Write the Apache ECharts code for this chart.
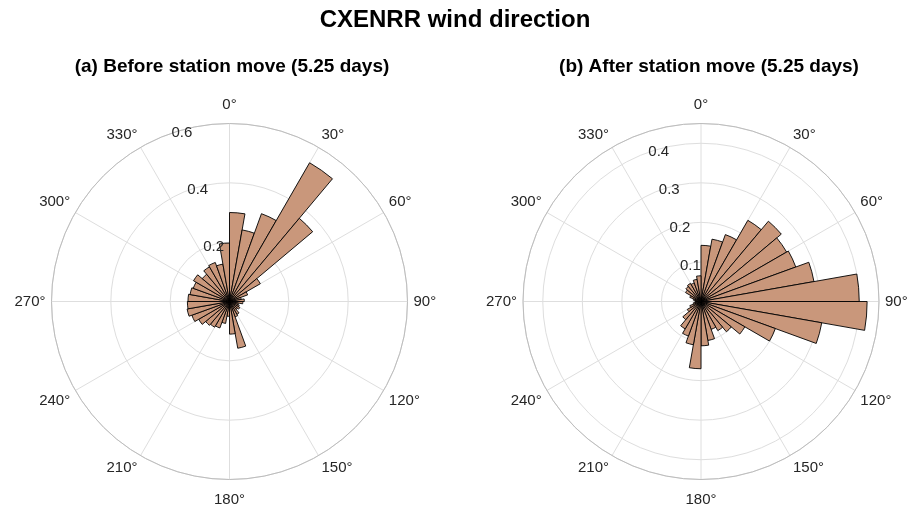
<!DOCTYPE html>
<html>
<head>
<meta charset="utf-8">
<script src="https://cdn.jsdelivr.net/npm/echarts@6/dist/echarts.min.js"></script>
<style>
html,body{margin:0;padding:0;background:#fff;}
#chart{width:910px;height:506px;}
</style>
</head>
<body>
<div id="chart"></div>
<script>
// ---- data ----
const binStart = [0,10,20,30,40,50,60,70,80,90,100,110,120,130,140,150,160,170,
                  180,190,200,210,220,230,240,250,260,270,280,290,300,310,320,330,340,350];
const beforeFreq = [0.300,0.245,0.315,0.540,0.366,0.120,0.065,0.040,0.050,0.045,0.030,0.035,
                    0.040,0.035,0.050,0.055,0.160,0.110,0.050,0.075,0.095,0.100,0.105,0.120,
                    0.135,0.145,0.142,0.140,0.135,0.130,0.140,0.120,0.135,0.140,0.128,0.197];
const afterFreq  = [0.142,0.160,0.180,0.237,0.265,0.250,0.255,0.290,0.400,0.420,0.310,0.200,
                    0.128,0.100,0.085,0.075,0.100,0.112,0.170,0.111,0.093,0.080,0.060,0.040,
                    0.030,0.020,0.015,0.015,0.020,0.030,0.045,0.050,0.053,0.050,0.057,0.065];
const angleTicks = [0,30,60,90,120,150,180,210,240,270,300,330];
const rTicksA = [0.2,0.4,0.6];
const rTicksB = [0.1,0.2,0.3,0.4];
const rMaxA = 0.6, rIntA = 0.2;
const rMaxB = 0.45, rIntB = 0.1;
const mainTitle = 'CXENRR wind direction';
const subTitles = ['(a) Before station move (5.25 days)', '(b) After station move (5.25 days)'];

// ---- style ----
const FONT = 'Liberation Sans, Arial, Helvetica, sans-serif';
const TXT = '#262626';
const GRID = '#dedede';
const OUTER = '#bdbdbd';
const FILL = '#C9977B';
const centers = [[229.5, 301.5], [701, 301.5]];
const R = 178;

const chart = echarts.init(document.getElementById('chart'), null, {renderer: 'canvas'});

const polar = [], angleAxis = [], radiusAxis = [], series = [];
const panels = [
  {data: beforeFreq, max: rMaxA, interval: rIntA, ticks: rTicksA},
  {data: afterFreq,  max: rMaxB, interval: rIntB, ticks: rTicksB}
];

panels.forEach((p, i) => {
  const c = centers[i];
  // grid polar (labels in degrees, circles, spokes)
  const gi = polar.length;
  polar.push({center: c, radius: R});
  angleAxis.push({
    polarIndex: gi, type: 'value', min: 0, max: 360, interval: 30,
    startAngle: 90, clockwise: true, z: 0,
    axisLine: {show: true, lineStyle: {color: OUTER, width: 1}},
    axisTick: {show: false},
    splitLine: {show: true, lineStyle: {color: GRID, width: 1}},
    axisLabel: {
      show: true, margin: 6, color: TXT, fontSize: 15, fontFamily: FONT,
      formatter: v => {
        if (angleTicks.indexOf(v) < 0) return '';
        if (v === 0) return '{t|' + v + '°}';
        if (v === 180) return '{b|' + v + '°}';
        return v + '°';
      },
      rich: {
        t: {padding: [0,0,5,0], fontSize: 15, fontFamily: FONT, color: TXT},
        b: {padding: [7,0,0,0], fontSize: 15, fontFamily: FONT, color: TXT}
      }
    }
  });
  radiusAxis.push({
    polarIndex: gi, type: 'value', min: 0, max: p.max, interval: p.interval, z: 0,
    axisLine: {show: false}, axisTick: {show: false}, axisLabel: {show: false},
    splitLine: {show: true, lineStyle: {color: GRID, width: 1}}
  });

  // bar polar
  const bi = polar.length;
  polar.push({center: c, radius: R});
  angleAxis.push({
    polarIndex: bi, type: 'category', data: binStart.map(String), boundaryGap: true,
    startAngle: 90, clockwise: true,
    axisLine: {show: false}, axisTick: {show: false}, axisLabel: {show: false}, splitLine: {show: false}
  });
  radiusAxis.push({
    polarIndex: bi, type: 'value', min: 0, max: p.max,
    axisLine: {show: false}, axisTick: {show: false}, axisLabel: {show: false}, splitLine: {show: false}
  });
  series.push({
    type: 'bar', coordinateSystem: 'polar', polarIndex: bi,
    data: p.data, barCategoryGap: '0%', barGap: '0%', z: 2,
    itemStyle: {color: FILL, borderColor: '#000', borderWidth: 0.9},
    emphasis: {disabled: true}, silent: true, animation: false
  });

  // radius-label polar
  const li = polar.length;
  polar.push({center: c, radius: R});
  angleAxis.push({
    polarIndex: li, type: 'value', min: 0, max: 360, startAngle: 105.5, clockwise: true,
    axisLine: {show: false}, axisTick: {show: false}, axisLabel: {show: false}, splitLine: {show: false}
  });
  radiusAxis.push({
    polarIndex: li, type: 'value', min: 0, max: p.max, interval: p.interval, z: 10,
    axisLine: {show: false}, axisTick: {show: false}, splitLine: {show: false},
    axisLabel: {
      show: true, margin: 0, color: TXT, fontSize: 15, fontFamily: FONT,
      align: 'center', verticalAlign: 'middle',
      formatter: v => {
        const hit = p.ticks.some(t => Math.abs(t - v) < 1e-9);
        return hit ? '{p|' + String(Math.round(v * 10) / 10) + '}' : '';
      },
      rich: {
        p: {padding: [5,0,0,0], fontSize: 15, fontFamily: FONT, color: TXT}
      }
    }
  });
});

const option = {
  backgroundColor: '#ffffff',
  animation: false,
  title: [
    {text: mainTitle, left: 455, top: 8, textAlign: 'center', padding: 0,
     textStyle: {fontSize: 24, fontWeight: 'bold', fontFamily: FONT, color: '#000'}},
    {text: subTitles[0], left: 232, top: 57, textAlign: 'center', padding: 0,
     textStyle: {fontSize: 19, fontWeight: 'bold', fontFamily: FONT, color: '#000'}},
    {text: subTitles[1], left: 709, top: 57, textAlign: 'center', padding: 0,
     textStyle: {fontSize: 19, fontWeight: 'bold', fontFamily: FONT, color: '#000'}}
  ],
  polar, angleAxis, radiusAxis, series
};
chart.setOption(option);
</script>
</body>
</html>
